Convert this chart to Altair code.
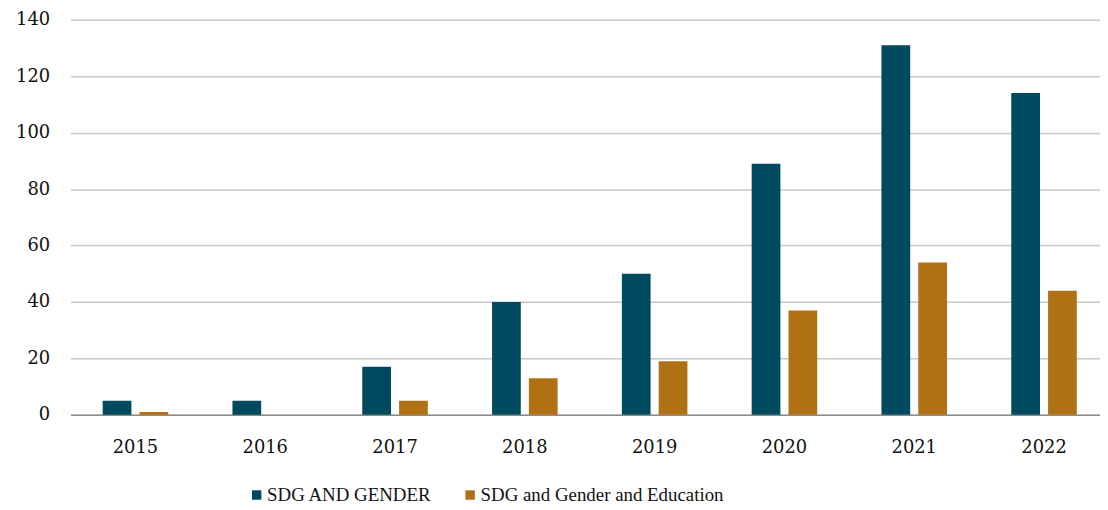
import altair as alt
import pandas as pd

years = ["2015", "2016", "2017", "2018", "2019", "2020", "2021", "2022"]
series_names = ["SDG AND GENDER", "SDG and Gender and Education"]
sdg_gender = [5, 5, 17, 40, 50, 89, 131, 114]
sdg_gender_edu = [1, 0, 5, 13, 19, 37, 54, 44]
colors = ["#004A5F", "#B07014"]

rows = []
for i, y in enumerate(years):
    rows.append({"year": y, "series": series_names[0], "value": sdg_gender[i]})
    rows.append({"year": y, "series": series_names[1], "value": sdg_gender_edu[i]})
df = pd.DataFrame(rows)

axis_font = "DejaVu Serif"
legend_font = "Liberation Serif"

chart = alt.Chart(df).mark_bar().encode(
    x=alt.X("year:N", sort=years, title=None,
            scale=alt.Scale(paddingInner=0.495, paddingOuter=0.2475, range=[0, 1046]),
            axis=alt.Axis(labelAngle=0, ticks=False, domain=True, domainColor="#8c8c8c",
                          domainWidth=1.5, labelFont=axis_font, labelFontSize=18,
                          labelColor="#111111", labelPadding=24, grid=False)),
    xOffset=alt.XOffset("series:N", sort=series_names,
                        scale=alt.Scale(paddingInner=0.22, paddingOuter=0)),
    y=alt.Y("value:Q", title=None,
            scale=alt.Scale(domain=[0, 140], nice=False),
            axis=alt.Axis(values=[0, 20, 40, 60, 80, 100, 120, 140], ticks=False, domain=False,
                          gridColor="#c8c8c8", gridWidth=1.5, labelFont=axis_font,
                          labelFontSize=18, labelColor="#111111", labelPadding=21)),
    color=alt.Color("series:N", sort=series_names,
                    scale=alt.Scale(domain=series_names, range=colors),
                    legend=alt.Legend(title=None, orient="none", direction="horizontal",
                                      columns=2, legendX=178, legendY=469,
                                      symbolType="square", symbolSize=90,
                                      symbolStrokeWidth=0, labelFont=legend_font,
                                      labelFontSize=19, labelColor="#111111",
                                      columnPadding=29, labelOffset=1,
                                      labelLimit=500)),
).properties(
    width=1037,
    height=398,
    autosize=alt.AutoSizeParams(type="none"),
    padding={"left": 63, "top": 10, "right": 0, "bottom": 92},
).configure_view(stroke=None)

chart.save("out.html", embed_options={"renderer": "svg", "actions": False})
